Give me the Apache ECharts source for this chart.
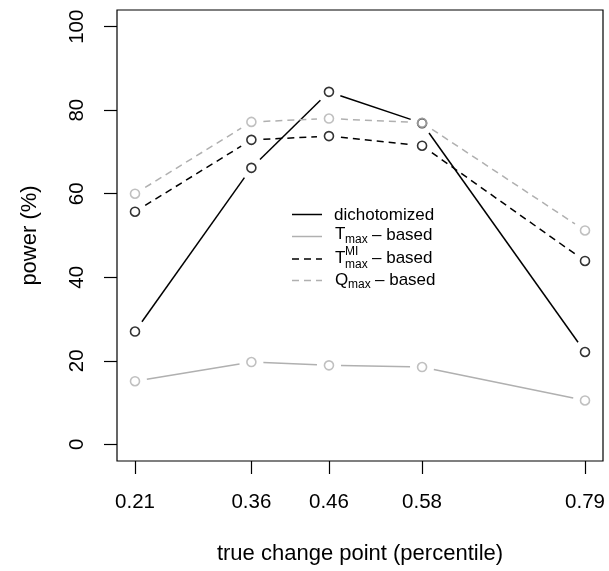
<!DOCTYPE html>
<html>
<head>
<meta charset="utf-8">
<script src="https://cdn.jsdelivr.net/npm/echarts@6/dist/echarts.min.js"></script>
<style>
  html, body { margin: 0; padding: 0; background: #fff; }
  #main { width: 609px; height: 571px; }
</style>
</head>
<body>
<div id="main"></div>
<script>
// change point percentiles
var xVals = [0.21, 0.36, 0.46, 0.58, 0.79];
var yTicks = [0, 20, 40, 60, 80, 100];

// power (%)
var dichotomized = [27.0, 66.2, 84.4, 76.9, 22.1];
var tmaxBased = [15.1, 19.7, 18.9, 18.5, 10.5];
var tmaxMIBased = [55.7, 72.9, 73.8, 71.5, 43.9];
var qmaxBased = [60.0, 77.2, 78.0, 77.0, 51.2];

var BLACK = '#000000';
var GREY = '#b0b0b0';
var FONT = 'Liberation Sans';

var chart = echarts.init(document.getElementById('main'), null, { renderer: 'canvas' });

// segments between neighbouring points, R type="b" style (gap round each point)
function segments(ys) {
  var out = [];
  for (var i = 0; i < xVals.length - 1; i++) {
    out.push([xVals[i], ys[i], xVals[i + 1], ys[i + 1]]);
  }
  return out;
}

function points(ys) {
  return xVals.map(function (x, i) { return [x, ys[i]]; });
}

function gapLine(color, dash) {
  return function (params, api) {
    var p1 = api.coord([api.value(0), api.value(1)]);
    var p2 = api.coord([api.value(2), api.value(3)]);
    var dx = p2[0] - p1[0], dy = p2[1] - p1[1];
    var len = Math.sqrt(dx * dx + dy * dy);
    var gap = 12;
    if (len <= 2 * gap) return null;
    var ux = dx / len, uy = dy / len;
    return {
      type: 'line',
      shape: {
        x1: p1[0] + ux * gap, y1: p1[1] + uy * gap,
        x2: p2[0] - ux * gap, y2: p2[1] - uy * gap
      },
      style: { stroke: color, lineWidth: 1.5, lineDash: dash || null, fill: null }
    };
  };
}

function makeSeries(name, ys, color, dash) {
  return [
    {
      name: name,
      type: 'custom',
      renderItem: gapLine(color, dash),
      encode: { x: [0, 2], y: [1, 3] },
      data: segments(ys),
      silent: true
    },
    {
      name: name,
      type: 'scatter',
      symbol: 'circle',
      symbolSize: 9,
      itemStyle: { color: 'rgba(0,0,0,0)', borderColor: color, borderWidth: 1.6 },
      data: points(ys),
      silent: true,
      z: 3
    }
  ];
}

function legendText(x, y, text, size) {
  return {
    type: 'text', x: x, y: y,
    style: {
      text: text, fill: BLACK, font: size + 'px "' + FONT + '"',
      verticalAlign: 'middle', align: 'left'
    }
  };
}

function legendLine(y, color, dash) {
  return {
    type: 'line',
    shape: { x1: 292, y1: y, x2: 322, y2: y },
    style: { stroke: color, lineWidth: 1.5, lineDash: dash || null }
  };
}

var option = {
  animation: false,
  backgroundColor: '#fff',
  textStyle: { fontFamily: FONT },
  grid: {
    left: 117, right: 6, top: 10, bottom: 110,
    show: true, borderColor: BLACK, borderWidth: 1.2, backgroundColor: 'transparent'
  },
  xAxis: {
    type: 'value',
    min: 0.1868,
    max: 0.8132,
    name: 'true change point (percentile)',
    nameLocation: 'middle',
    nameGap: 82,
    nameTextStyle: { fontSize: 22, color: BLACK, fontFamily: FONT },
    axisLine: { show: false, onZero: false },
    splitLine: { show: false },
    axisTick: { show: true, length: 13, lineStyle: { color: BLACK, width: 1.2 }, customValues: xVals },
    axisLabel: {
      fontSize: 20.5, color: BLACK, margin: 31, fontFamily: FONT,
      customValues: xVals,
      formatter: function (v) { return v.toFixed(2); }
    }
  },
  yAxis: {
    type: 'value',
    min: -4,
    max: 104,
    name: 'power (%)',
    nameLocation: 'middle',
    nameGap: 76,
    nameTextStyle: { fontSize: 22, color: BLACK, fontFamily: FONT },
    axisLine: { show: false, onZero: false },
    splitLine: { show: false },
    axisTick: { show: true, length: 13, lineStyle: { color: BLACK, width: 1.2 }, customValues: yTicks },
    axisLabel: {
      fontSize: 20.5, color: BLACK, margin: 29, rotate: 90, fontFamily: FONT,
      customValues: yTicks
    }
  },
  series: [].concat(
    makeSeries('dichotomized', dichotomized, BLACK),
    makeSeries('Tmax-based', tmaxBased, GREY),
    makeSeries('TmaxMI-based', tmaxMIBased, BLACK, [7, 5]),
    makeSeries('Qmax-based', qmaxBased, GREY, [7, 5])
  ),
  graphic: [
    legendLine(214.5, BLACK),
    legendLine(236.5, GREY),
    legendLine(259, BLACK, [7, 5]),
    legendLine(280.5, GREY, [7, 5]),
    legendText(334, 215, 'dichotomized', 17),

    legendText(335, 234.5, 'T', 17),
    legendText(345, 240, 'max', 12),
    legendText(372, 235, '\u2013 based', 17),

    legendText(335, 258.5, 'T', 17),
    legendText(345, 252, 'MI', 12),
    legendText(345, 265, 'max', 12),
    legendText(372, 258, '\u2013 based', 17),

    legendText(335, 280, 'Q', 17),
    legendText(348, 285, 'max', 12),
    legendText(375, 280, '\u2013 based', 17)
  ]
};

chart.setOption(option);
</script>
</body>
</html>
